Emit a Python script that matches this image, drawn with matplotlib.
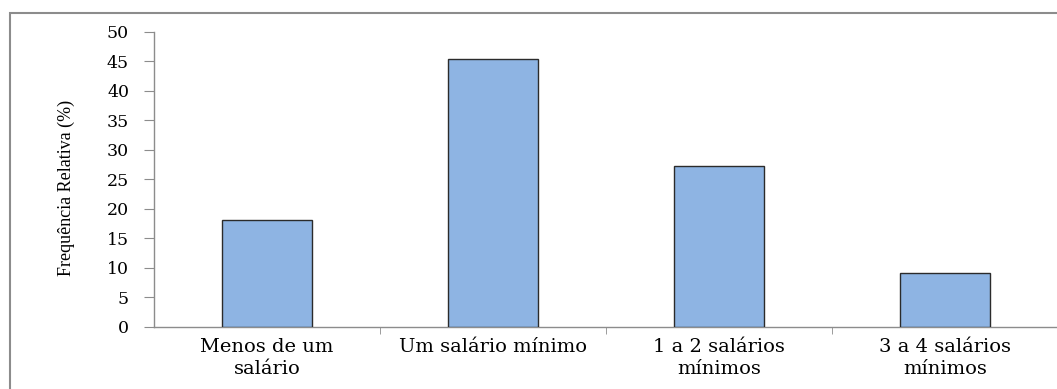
import matplotlib
matplotlib.use("Agg")
import matplotlib.pyplot as plt
from matplotlib.patches import Rectangle

# faixas de renda e frequencia relativa (%)
categorias = ["Menos de um\nsalário", "Um salário mínimo", "1 a 2 salários\nmínimos", "3 a 4 salários\nmínimos"]
frequencias = [18.18, 45.45, 27.27, 9.09]
yticks = [0, 5, 10, 15, 20, 25, 30, 35, 40, 45, 50]

plt.rcParams['font.family'] = ['Liberation Serif', 'DejaVu Serif']
serif_largo = ['DejaVu Serif', 'Liberation Serif']

fig = plt.figure(figsize=(10.57, 3.89), dpi=100)
ax = fig.add_axes([0.1457, 0.1594, 0.8553, 0.7584])

# moldura externa do grafico
fig.patches.append(Rectangle((10/1057, -0.05), 1.1, (389 - 13)/389 + 0.05,
                             transform=fig.transFigure, fill=False,
                             edgecolor='#8c8c8c', linewidth=1.5))

x = range(len(categorias))
ax.bar(x, frequencias, width=0.4, color='#8EB4E3', edgecolor='#2b2b2b', linewidth=1.0, zorder=3)

ax.set_xlim(-0.5, 3.5)
ax.set_ylim(0, 50)
ax.set_yticks(yticks)
ax.set_yticklabels([str(v) for v in yticks], fontsize=12.5, family=serif_largo)
ax.set_xticks(list(x))
ax.set_xticklabels(categorias, fontsize=14, linespacing=1.25, family=serif_largo)
ax.set_xticks([0.5, 1.5, 2.5], minor=True)

ax.tick_params(axis='y', direction='out', length=7, color='#8c8c8c', pad=11)
ax.tick_params(axis='x', which='major', length=0, pad=8)
ax.tick_params(axis='x', which='minor', direction='out', length=5, color='#8c8c8c')

for s in ['top', 'right']:
    ax.spines[s].set_visible(False)
for s in ['left', 'bottom']:
    ax.spines[s].set_color('#8c8c8c')
    ax.spines[s].set_linewidth(1.0)

fig.text(66/1057, 1 - 188/389, 'Frequência Relativa (%)', rotation=90,
         ha='center', va='center', fontsize=13)

fig.savefig('out.png', dpi=100)
